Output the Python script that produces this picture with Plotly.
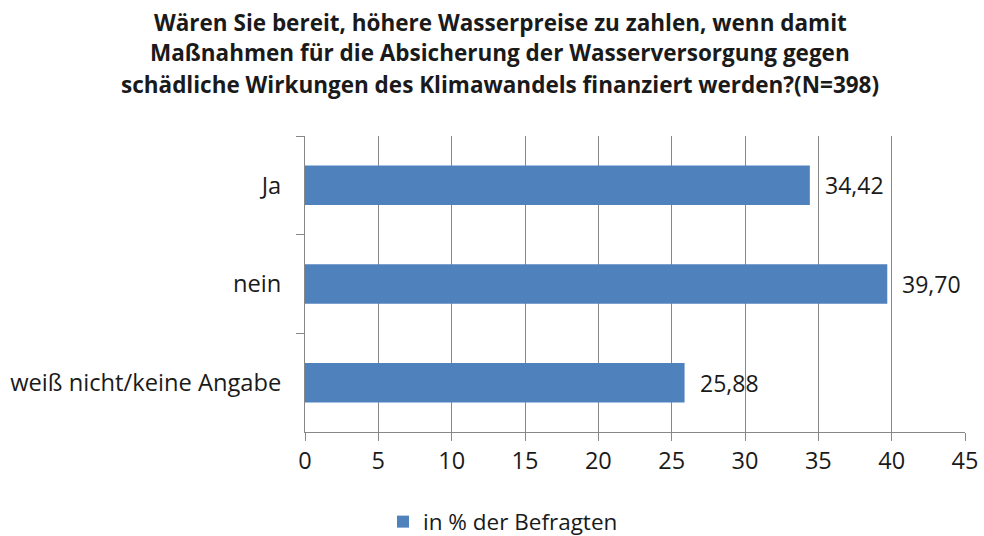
import plotly.graph_objects as go

categories = ["Ja", "nein", "weiß nicht/keine Angabe"]
values = [34.42, 39.70, 25.88]
x_ticks = [0, 5, 10, 15, 20, 25, 30, 35, 40, 45]
series_name = "in % der Befragten"
title_lines = [
    "Wären Sie bereit, höhere Wasserpreise zu zahlen, wenn damit",
    "Maßnahmen für die Absicherung der Wasserversorgung gegen",
    "schädliche Wirkungen des Klimawandels finanziert werden?(N=398)",
]

FONT = "Open Sans"
W, H = 984, 536
L, R, T, B = 305, 19, 136, 104
TXT = "#1a1a1a"

fig = go.Figure()
fig.add_trace(go.Bar(
    y=categories, x=values, orientation="h", name=series_name,
    marker=dict(color="#4F81BD", line=dict(width=0)),
    showlegend=True,
))

for c, v in zip(categories, values):
    fig.add_annotation(
        x=v, y=c, xref="x", yref="y",
        text=f"{v:.2f}".replace(".", ","),
        xanchor="left", yanchor="middle", xshift=13, showarrow=False,
        font=dict(family=FONT, size=23, color=TXT),
    )

fig.update_layout(
    width=W, height=H,
    margin=dict(l=L, r=R, t=T, b=B, pad=0, autoexpand=False),
    paper_bgcolor="white", plot_bgcolor="white",
    bargap=0.6,
    font=dict(family=FONT, size=23, color=TXT),
    showlegend=True,
    legend=dict(orientation="h", xref="container", yref="container",
                x=503 / W, xanchor="center",
                y=1 - 522 / H, yanchor="middle",
                font=dict(family=FONT, size=22.5, color=TXT),
                itemwidth=30),
)

fig.update_xaxes(
    range=[0, 45], tickvals=x_ticks, ticktext=[str(t) for t in x_ticks],
    showgrid=True, gridcolor="#878787", gridwidth=1,
    showline=True, linecolor="#878787", linewidth=1,
    ticks="outside", ticklen=8, tickcolor="#878787",
    tickfont=dict(family=FONT, size=23.5, color=TXT),
    zeroline=False, fixedrange=True,
)
fig.update_yaxes(
    autorange="reversed", showline=True, linecolor="#878787", linewidth=1,
    ticks="outside", ticklen=8, tickcolor="#878787", tickson="boundaries",
    tickfont=dict(family=FONT, size=23.7, color=TXT),
    showgrid=False, ticklabelstandoff=18,
)

for i, line in enumerate(title_lines):
    fig.add_annotation(
        text=f"<b>{line}</b>", xref="paper", yref="paper",
        x=(500 - L) / (W - L - R), y=1 + (T - (22 + 31 * i)) / (H - T - B),
        xanchor="center", yanchor="middle", showarrow=False,
        font=dict(family=FONT, size=22.5, color=TXT),
    )

fig.write_html("out.html")
